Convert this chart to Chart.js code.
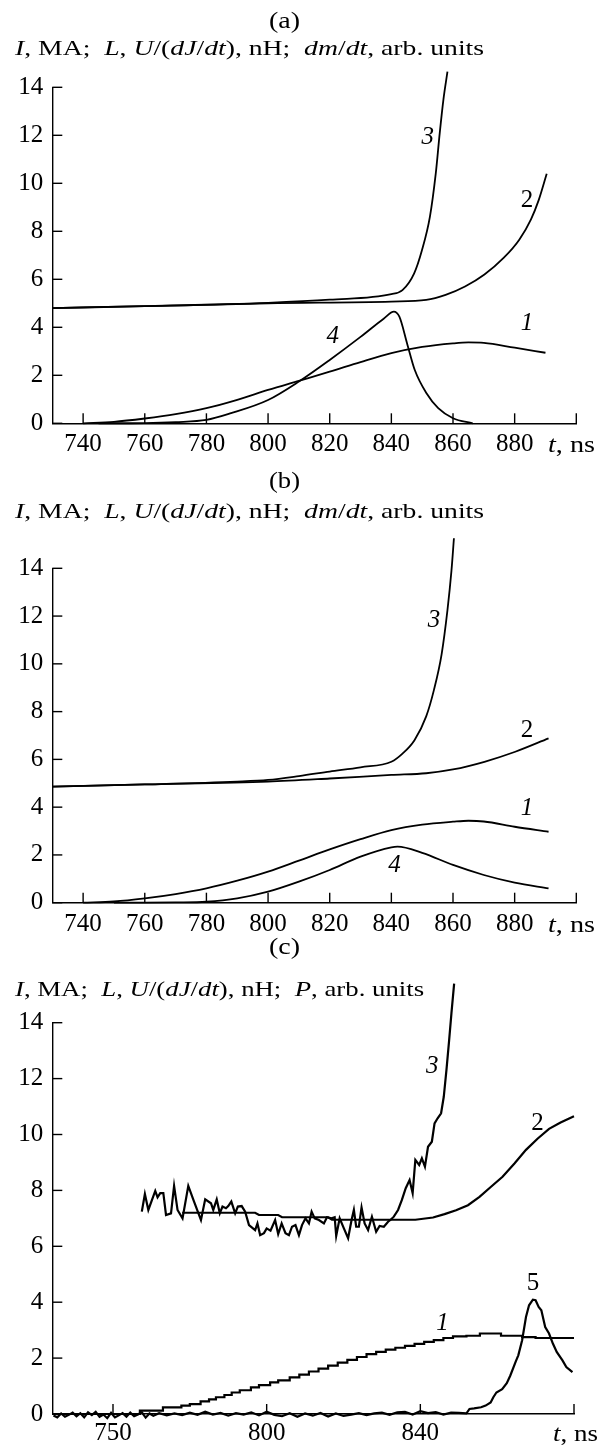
<!DOCTYPE html>
<html>
<head>
<meta charset="utf-8">
<script src="https://cdn.jsdelivr.net/npm/chart.js@4.4.1/dist/chart.umd.min.js"></script>
<style>
  html, body { margin: 0; padding: 0; background: #fff; }
  #page { position: relative; width: 608px; height: 1448px; overflow: hidden; background: #fff; }
  canvas { position: absolute; left: 0; }
  .txt { position: absolute; white-space: nowrap; font-family: 'Liberation Serif', 'Times New Roman', serif; color: #000; line-height: 1; transform-origin: 0 50%; }
</style>
</head>
<body>
<div id="page">
  <canvas id="chartA" width="608" height="460" style="top:0px"></canvas>
  <canvas id="chartB" width="608" height="480" style="top:460px"></canvas>
  <canvas id="chartC" width="608" height="508" style="top:940px"></canvas>

  <div class="txt" data-cx="284" data-cy="20" data-w="31" style="font-size:24px">(a)</div>
  <div class="txt" data-l="15" data-cy="48" data-w="469" style="font-size:22px"><i>I</i>, MA;&nbsp; <i>L</i>, <i>U</i>/(<i>dJ</i>/<i>dt</i>), nH;&nbsp; <i>dm</i>/<i>dt</i>, arb. units</div>
  <div class="txt" data-l="548" data-cy="444" data-w="47" style="font-size:24px"><i>t</i>, ns</div>

  <div class="txt" data-cx="284" data-cy="480" data-w="31" style="font-size:24px">(b)</div>
  <div class="txt" data-l="15" data-cy="511" data-w="469" style="font-size:22px"><i>I</i>, MA;&nbsp; <i>L</i>, <i>U</i>/(<i>dJ</i>/<i>dt</i>), nH;&nbsp; <i>dm</i>/<i>dt</i>, arb. units</div>
  <div class="txt" data-l="548" data-cy="924" data-w="47" style="font-size:24px"><i>t</i>, ns</div>

  <div class="txt" data-cx="284" data-cy="946" data-w="31" style="font-size:24px">(c)</div>
  <div class="txt" data-l="15" data-cy="989" data-w="409" style="font-size:22px"><i>I</i>, MA;&nbsp; <i>L</i>, <i>U</i>/(<i>dJ</i>/<i>dt</i>), nH;&nbsp; <i>P</i>, arb. units</div>
  <div class="txt" data-l="553" data-cy="1433" data-w="45" style="font-size:24px"><i>t</i>, ns</div>
</div>
<script>
// ---------------- DATA ----------------
// Axis ticks
const abTickValues = [740, 760, 780, 800, 820, 840, 860, 880, 900];
const abTickLabels = ['740', '760', '780', '800', '820', '840', '860', '880', ''];
const cTickValues = [760, 800, 840, 880];
const cTickLabels = ['750', '800', '840', ''];
const yTickValues = [0, 2, 4, 6, 8, 10, 12, 14];
const yTickLabels = ['0', '2', '4', '6', '8', '10', '12', '14'];

// Panel (a)
const aCurve1T = [740, 750, 760, 770, 780, 790, 800, 810, 820, 830, 840, 850, 860, 865, 870, 880, 890];
const aCurve1V = [0, 0.06, 0.2, 0.38, 0.63, 0.98, 1.39, 1.77, 2.15, 2.55, 2.92, 3.18, 3.33, 3.37, 3.35, 3.15, 2.94];
const aCurve2T = [730, 760, 800, 840, 851.3, 857.6, 863.9, 870.2, 876.5, 881.5, 885.3, 887.8, 890.4];
const aCurve2V = [4.8, 4.88, 5.0, 5.07, 5.14, 5.35, 5.7, 6.2, 6.9, 7.65, 8.5, 9.3, 10.4];
const aCurve3T = [730, 760, 800, 820, 840, 843.6, 847.4, 849.9, 852.5, 854.4, 855.7, 856.9, 858.2];
const aCurve3V = [4.8, 4.88, 5.02, 5.15, 5.38, 5.55, 6.25, 7.2, 8.6, 10.4, 12.1, 13.5, 14.65];
const aCurve4T = [745, 760, 770, 780, 788, 800, 810, 820, 830, 837.6, 840.8, 842.6, 845.1, 847.6, 851.4, 855.2, 860, 866.4];
const aCurve4V = [0, 0.01, 0.05, 0.14, 0.42, 0.97, 1.74, 2.64, 3.6, 4.37, 4.65, 4.44, 3.33, 2.22, 1.25, 0.63, 0.21, 0];
const aLabelText = ['1', '2', '3', '4'];
const aLabelT = [884, 884, 851.8, 821];
const aLabelV = [4.17, 9.3, 11.9, 3.6];

// Panel (b)
const bCurve1T = [740, 750, 760, 770, 780, 790, 800, 810, 820, 830, 840, 850, 860, 865, 870, 880, 891];
const bCurve1V = [0, 0.05, 0.18, 0.36, 0.6, 0.92, 1.3, 1.76, 2.23, 2.66, 3.04, 3.27, 3.39, 3.43, 3.4, 3.18, 2.97];
const bCurve2T = [730, 760, 800, 820, 840, 851.3, 860, 870.2, 880.2, 891];
const bCurve2V = [4.86, 4.95, 5.07, 5.2, 5.35, 5.42, 5.58, 5.9, 6.32, 6.88];
const bCurve3T = [730, 760, 790, 800, 810, 820, 830, 840, 843.7, 847.5, 851.3, 853.8, 856.3, 858.2, 859.5, 860.3];
const bCurve3V = [4.86, 4.95, 5.07, 5.14, 5.3, 5.49, 5.67, 5.9, 6.25, 6.8, 7.8, 8.9, 10.4, 12.25, 13.9, 15.26];
const bCurve4T = [750, 760, 770, 780, 790, 800, 810, 820, 830, 840, 842, 850, 860, 870, 880, 891];
const bCurve4V = [0, 0, 0.01, 0.04, 0.18, 0.46, 0.88, 1.37, 1.93, 2.32, 2.35, 2.09, 1.58, 1.16, 0.84, 0.6];
const bLabelText = ['1', '2', '3', '4'];
const bLabelT = [884, 884, 853.8, 841];
const bLabelV = [3.95, 7.2, 11.8, 1.58];

// Panel (c)
const cCurve1T = [744.2, 766.7, 767, 773, 777.8, 780, 782.8, 785, 786.8, 789, 790.9, 793, 795.9, 798, 800.9, 803, 806, 808.5, 811, 813.5, 816, 818.5, 821, 823.5, 826, 828.5, 831, 833.5, 836, 838.5, 841, 843.5, 846, 848.5, 852, 855.5, 859, 861, 866.5, 870, 880];
const cCurve1V = [0, 0, 0.12, 0.24, 0.3, 0.35, 0.45, 0.52, 0.6, 0.68, 0.77, 0.85, 0.95, 1.03, 1.13, 1.2, 1.31, 1.41, 1.52, 1.62, 1.73, 1.84, 1.94, 2.04, 2.14, 2.22, 2.3, 2.37, 2.44, 2.51, 2.58, 2.64, 2.72, 2.78, 2.8, 2.88, 2.88, 2.8, 2.75, 2.72, 2.72];
const cCurve2T = [778, 797, 798, 803, 804, 816, 817, 838.7, 843.3, 846.3, 849.3, 852.4, 855.4, 858.4, 861.4, 864.5, 867.5, 870.5, 873.5, 876.5, 880];
const cCurve2V = [7.2, 7.2, 7.12, 7.12, 7.04, 7.04, 6.95, 6.95, 7.03, 7.15, 7.29, 7.47, 7.77, 8.13, 8.49, 8.96, 9.45, 9.85, 10.2, 10.43, 10.65];
const cCurve3T = [767.5, 768.3, 769.2, 771.0, 771.6, 772.3, 773.1, 773.8, 775.1, 775.9,
                  776.8, 778.1, 779.6, 781.1, 782.9, 784.0, 785.5, 786.1, 787.0, 787.8,
                  788.5, 789.4, 790.0, 790.8, 791.8, 792.5, 793.5, 794.4, 795.4, 797.0,
                  797.6, 798.3, 799.3, 800.0, 801.0, 802.2, 803.0, 803.9, 804.9, 805.8,
                  806.6, 807.5, 808.4, 809.2, 810.1, 811.0, 811.7, 812.5, 813.6, 814.9,
                  815.7, 816.9, 817.7, 818.1, 819.0, 820.1, 821.2, 822.1, 822.7, 823.3,
                  824.0, 824.7, 825.5, 826.4, 827.4, 828.5, 829.4, 830.5, 831.6, 832.2,
                  833.1, 834.2, 835.2, 836.2, 837.2, 838.0, 838.7, 839.7, 840.4, 841.2,
                  842.0, 843.0, 843.7, 844.5, 845.4, 846.1, 846.8, 847.5, 848.1, 848.8];
const cCurve3V = [7.24, 7.87, 7.30, 7.98, 7.75, 7.90, 7.90, 7.12, 7.18, 8.16,
                  7.30, 7.00, 8.16, 7.60, 6.94, 7.68, 7.54, 7.30, 7.68, 7.18,
                  7.42, 7.36, 7.44, 7.60, 7.18, 7.42, 7.44, 7.24, 6.76, 6.58,
                  6.82, 6.40, 6.47, 6.64, 6.56, 6.94, 6.44, 6.82, 6.47, 6.40,
                  6.70, 6.76, 6.40, 6.76, 7.00, 6.82, 7.24, 7.00, 6.94, 6.82,
                  7.04, 7.00, 7.04, 6.37, 7.00, 6.64, 6.29, 6.94, 7.30, 6.70,
                  6.70, 7.39, 6.82, 6.58, 7.06, 6.52, 6.73, 6.70, 6.88, 6.94,
                  7.06, 7.30, 7.66, 8.08, 8.37, 7.90, 9.09, 8.91, 9.15, 8.85,
                  9.56, 9.74, 10.40, 10.58, 10.76, 11.35, 12.31, 13.38, 14.34, 15.40];
const cCurve5T = [744.5, 745.5, 746.5, 747.5, 748.5, 749.5, 750.5, 751.5, 752.5, 753.5,
                  754.5, 755.5, 756.5, 757.5, 758.5, 759.5, 760.5, 761.5, 762.5, 763.5,
                  764.5, 765.5, 766.5, 767.5, 768.5, 769.5, 770.5, 772, 774, 776,
                  778, 780, 782, 784, 786, 788, 790, 792, 794, 796,
                  798, 800, 802, 804, 806, 808, 810, 812, 814, 816,
                  818, 820, 822, 824, 826, 828, 830, 832, 834, 836,
                  838, 840, 842, 844, 846, 848, 850, 852, 852.8, 854,
                  855.8, 857, 858.3, 859, 859.8, 861.3, 862.5, 863.4, 864.9, 865.5,
                  866.5, 867.5, 868.3, 869.3, 870, 870.8, 871.5, 872.5, 873.5, 874.5,
                  875.5, 877, 878, 879.6];
const cCurve5V = [-0.05, -0.12, 0.02, -0.10, -0.03, 0.05, -0.08, 0.03, -0.12, 0.06,
                  -0.04, 0.08, -0.10, -0.02, -0.15, 0.04, -0.12, -0.05, 0.03, -0.10,
                  0.05, -0.08, -0.02, 0.06, -0.13, 0.02, -0.06, 0.03, -0.05, 0.02,
                  -0.04, 0.05, -0.03, 0.08, -0.02, 0.04, -0.06, 0.03, -0.02, 0.06,
                  -0.05, 0.08, -0.03, -0.08, 0.03, -0.10, 0.02, -0.06, 0.04, -0.09,
                  0.02, -0.07, -0.02, 0.03, -0.04, 0.02, 0.05, -0.03, 0.06, 0.08,
                  -0.02, 0.10, 0.03, 0.07, -0.02, 0.05, 0.04, 0.02, 0.18, 0.2,
                  0.24, 0.3, 0.41, 0.6, 0.77, 0.89, 1.1, 1.37, 1.9, 2.1,
                  2.64, 3.47, 3.89, 4.09, 4.07, 3.83, 3.71, 3.11, 2.88, 2.52,
                  2.22, 1.92, 1.68, 1.5];
const cLabelText = ['1', '2', '3', '5'];
const cLabelT = [845.8, 870.5, 843.1, 869.3];
const cLabelV = [3.23, 10.4, 12.42, 4.67];

// ---------------- STYLE / RENDER ----------------
const FONT = "'Liberation Serif', 'Times New Roman', serif";
const italicLabels = { '1': true, '2': false, '3': true, '4': true, '5': false };

const inwardTicks = {
  id: 'inwardTicks',
  afterDraw(chart) {
    const { ctx, chartArea } = chart;
    const x = chart.scales.x, y = chart.scales.y;
    ctx.save();
    ctx.strokeStyle = '#000';
    ctx.lineWidth = 1.4;
    x.ticks.forEach(t => {
      const px = x.getPixelForValue(t.value);
      ctx.beginPath(); ctx.moveTo(px, chartArea.bottom); ctx.lineTo(px, chartArea.bottom - 10); ctx.stroke();
    });
    y.ticks.forEach(t => {
      const py = y.getPixelForValue(t.value);
      ctx.beginPath(); ctx.moveTo(chartArea.left, py); ctx.lineTo(chartArea.left + 10, py); ctx.stroke();
    });
    ctx.restore();
  }
};

const curveLabels = {
  id: 'curveLabels',
  afterDraw(chart, args, opts) {
    const { ctx } = chart;
    const x = chart.scales.x, y = chart.scales.y;
    ctx.save();
    ctx.fillStyle = '#000';
    ctx.textAlign = 'center';
    ctx.textBaseline = 'middle';
    (opts.text || []).forEach((s, i) => {
      ctx.font = (italicLabels[s] ? 'italic ' : '') + '25px ' + FONT;
      ctx.fillText(s, x.getPixelForValue(opts.t[i]), y.getPixelForValue(opts.v[i]));
    });
    ctx.restore();
  }
};

function makeChart(id, cfg) {
  return new Chart(document.getElementById(id), {
    type: 'line',
    data: {
      datasets: cfg.series.map(s => ({
        data: s.t.map((t, i) => ({ x: t, y: s.v[i] })),
        borderColor: '#000',
        borderWidth: cfg.lw,
        pointRadius: 0,
        fill: false,
        tension: 0,
        cubicInterpolationMode: s.smooth ? 'monotone' : 'default',
        stepped: s.stepped || false,
        clip: false
      }))
    },
    options: {
      responsive: false,
      animation: false,
      devicePixelRatio: 1,
      layout: { padding: { left: 0, top: cfg.top, right: cfg.right, bottom: 0 } },
      plugins: {
        legend: { display: false },
        tooltip: { enabled: false },
        curveLabels: { text: cfg.labelText, t: cfg.labelT, v: cfg.labelV }
      },
      scales: {
        x: {
          type: 'linear', min: cfg.xmin, max: cfg.xmax,
          afterBuildTicks: s => { s.ticks = cfg.xTicks.map(v => ({ value: v })); },
          afterFit: s => { s.height = cfg.xh; },
          ticks: {
            callback: (v, i) => cfg.xLabels[i],
            font: { family: FONT, size: 25 }, color: '#000',
            padding: cfg.xpad, maxRotation: 0, minRotation: 0, autoSkip: false
          },
          grid: { display: false, drawTicks: false },
          border: { display: true, color: '#000', width: 1.4 }
        },
        y: {
          type: 'linear', min: 0, max: 14,
          afterBuildTicks: s => { s.ticks = yTickValues.map(v => ({ value: v })); },
          afterFit: s => { s.width = 52.3; },
          ticks: {
            callback: (v, i) => yTickLabels[i],
            font: { family: FONT, size: 25 }, color: '#000',
            padding: 9, autoSkip: false
          },
          grid: { display: false, drawTicks: false },
          border: { display: true, color: '#000', width: 1.4 }
        }
      }
    },
    plugins: [inwardTicks, curveLabels]
  });
}

makeChart('chartA', {
  top: 87.3, right: 31.7, xh: 36.7, xpad: 6, lw: 1.8,
  xmin: 730, xmax: 900, xTicks: abTickValues, xLabels: abTickLabels,
  series: [
    { t: aCurve1T, v: aCurve1V, smooth: true },
    { t: aCurve2T, v: aCurve2V, smooth: true },
    { t: aCurve3T, v: aCurve3V, smooth: true },
    { t: aCurve4T, v: aCurve4V, smooth: true }
  ],
  labelText: aLabelText, labelT: aLabelT, labelV: aLabelV
});

makeChart('chartB', {
  top: 108.3, right: 31.7, xh: 37.3, xpad: 6.5, lw: 1.8,
  xmin: 730, xmax: 900, xTicks: abTickValues, xLabels: abTickLabels,
  series: [
    { t: bCurve1T, v: bCurve1V, smooth: true },
    { t: bCurve2T, v: bCurve2V, smooth: true },
    { t: bCurve3T, v: bCurve3V, smooth: true },
    { t: bCurve4T, v: bCurve4V, smooth: true }
  ],
  labelText: bLabelText, labelT: bLabelT, labelV: bLabelV
});

makeChart('chartC', {
  top: 82.7, right: 34, xh: 34, xpad: 4, lw: 2.2,
  xmin: 744.2, xmax: 880, xTicks: cTickValues, xLabels: cTickLabels,
  series: [
    { t: cCurve1T, v: cCurve1V, stepped: true },
    { t: cCurve2T, v: cCurve2V },
    { t: cCurve3T, v: cCurve3V },
    { t: cCurve5T, v: cCurve5V }
  ],
  labelText: cLabelText, labelT: cLabelT, labelV: cLabelV
});

// Header texts: position and fit to measured widths
document.querySelectorAll('.txt').forEach(el => {
  const fs = parseFloat(el.style.fontSize);
  const w = el.getBoundingClientRect().width;
  const target = parseFloat(el.dataset.w);
  const k = target / w;
  const left = el.dataset.cx !== undefined ? parseFloat(el.dataset.cx) - target / 2 : parseFloat(el.dataset.l);
  el.style.left = left + 'px';
  el.style.top = (parseFloat(el.dataset.cy) - fs / 2) + 'px';
  el.style.transform = 'scaleX(' + k.toFixed(3) + ')';
});
</script>
</body>
</html>
